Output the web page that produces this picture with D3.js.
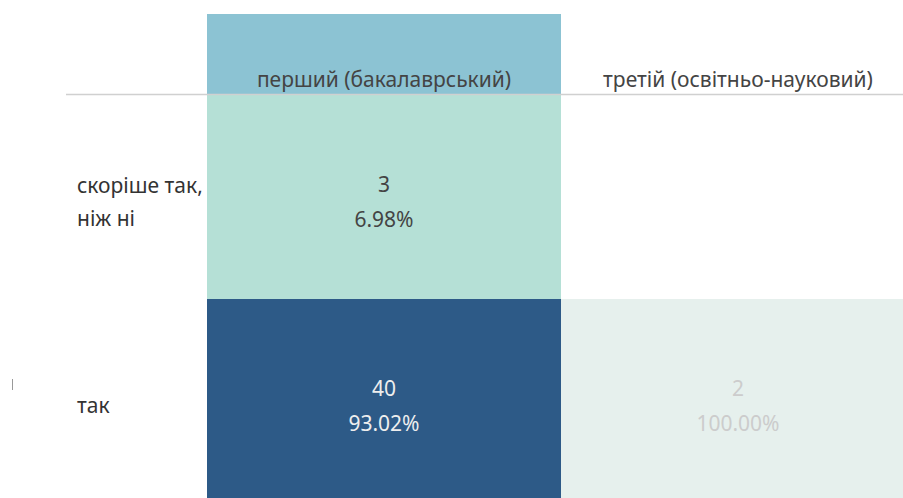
<!DOCTYPE html>
<html>
<head>
<meta charset="utf-8">
<script src="https://cdn.jsdelivr.net/npm/d3@7"></script>
<style>
  body { margin: 0; background: #fff; }
  text { font-family: "Noto Sans", "Open Sans", sans-serif; }
</style>
</head>
<body>
<div id="chart"></div>
<script>
var columns = ["перший (бакалаврський)", "третій (освітньо-науковий)"],
    rows = [["скоріше так,", "ніж ні"], ["так"]],
    rowKeys = ["скоріше так, ніж ні", "так"],
    counts = [[3, null], [40, 2]],
    percents = [["6.98%", null], ["93.02%", "100.00%"]];

var width = 903,
    height = 498,
    fontSize = 21;

var svg = d3.select("#chart").append("svg")
  .attr("width", width)
  .attr("height", height);

var x = d3.scaleBand().domain(columns).range([207, 915]);
var y = d3.scaleBand().domain(rowKeys).range([95, 503]);

// colour by count
var colour = d3.scaleLog()
  .domain([2, 3, 40])
  .range(["#e6f0ed", "#b5e0d6", "#2d5a87"]);

function textColour(v) {
  if (v >= 20) return "#eeeeee";
  if (v >= 3) return "#444";
  return "#cccccc";
}

// highlighted column header
svg.append("rect")
  .attr("x", x(columns[0]))
  .attr("y", 14)
  .attr("width", x.bandwidth())
  .attr("height", 81)
  .attr("fill", "#8cc3d3");

var cells = [];
rowKeys.forEach(function(r, i) {
  columns.forEach(function(c, j) {
    if (counts[i][j] != null) cells.push({row: r, col: c, count: counts[i][j], pct: percents[i][j]});
  });
});

svg.selectAll(null)
  .data(cells)
  .enter().append("rect")
  .attr("x", function(d) { return x(d.col); })
  .attr("y", function(d) { return y(d.row); })
  .attr("width", x.bandwidth())
  .attr("height", y.bandwidth())
  .attr("fill", function(d) { return colour(d.count); });

var labels = svg.selectAll(null)
  .data(cells)
  .enter().append("text")
  .attr("text-anchor", "middle")
  .attr("font-size", fontSize)
  .attr("fill", function(d) { return textColour(d.count); });

labels.append("tspan")
  .attr("x", function(d) { return x(d.col) + x.bandwidth() / 2; })
  .attr("y", function(d) { return y(d.row) + y.bandwidth() / 2 + 12 - 17.5; })
  .text(function(d) { return d.count; });

labels.append("tspan")
  .attr("x", function(d) { return x(d.col) + x.bandwidth() / 2; })
  .attr("y", function(d) { return y(d.row) + y.bandwidth() / 2 + 12 + 17.5; })
  .text(function(d) { return d.pct; });

// column headers
svg.selectAll(null)
  .data(columns)
  .enter().append("text")
  .attr("x", function(d) { return x(d) + 177; })
  .attr("y", 87)
  .attr("text-anchor", "middle")
  .attr("font-size", fontSize)
  .attr("fill", "#444")
  .text(function(d) { return d; });

// row headers
rowKeys.forEach(function(r, i) {
  var lines = rows[i];
  svg.selectAll(null)
    .data(lines)
    .enter().append("text")
    .attr("x", 77)
    .attr("y", function(d, k) { return y(r) + y.bandwidth() / 2 + 12 + (k - (lines.length - 1) / 2) * 33; })
    .attr("font-size", fontSize)
    .attr("fill", "#333")
    .text(function(d) { return d; });
});

// header rule
svg.append("line")
  .attr("x1", 66).attr("x2", width)
  .attr("y1", 94.5).attr("y2", 94.5)
  .attr("stroke", "#d0d0d0")
  .attr("stroke-width", 1.5);

// clipped label fragment at the left edge
svg.append("line")
  .attr("x1", 12.5).attr("x2", 12.5)
  .attr("y1", 379).attr("y2", 390)
  .attr("stroke", "#999");
</script>
</body>
</html>
